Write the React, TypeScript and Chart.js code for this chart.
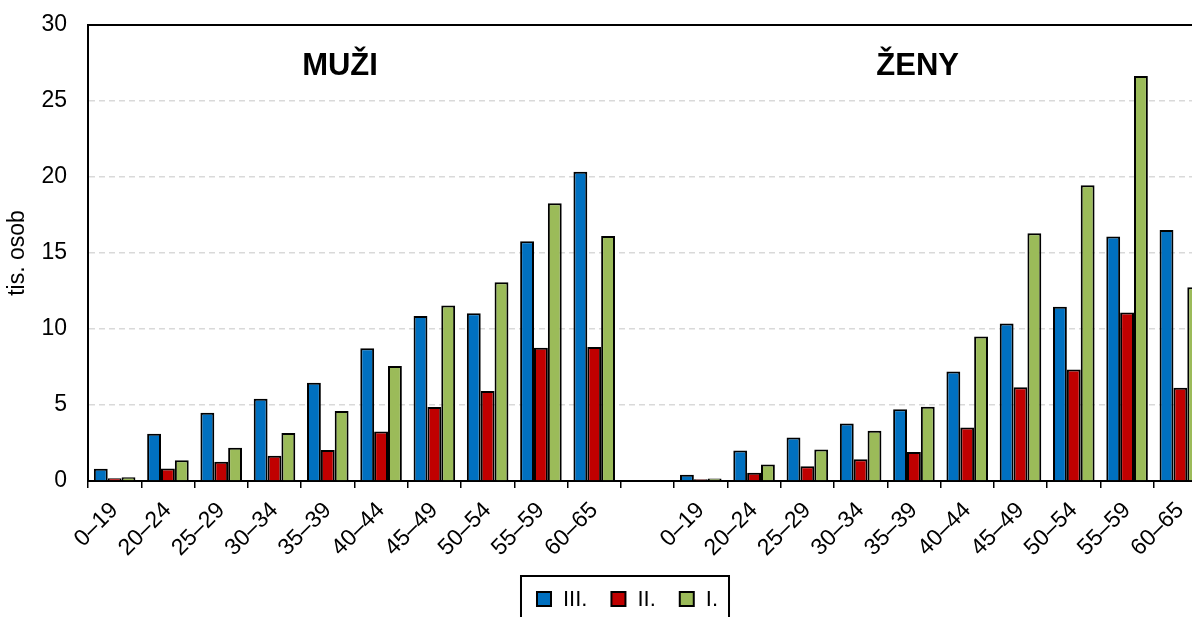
import React, { useEffect, useRef } from "react";
import { Chart, registerables } from "chart.js";

Chart.register(...registerables);

// ---- data ----
const ageGroups = ["0–19", "20–24", "25–29", "30–34", "35–39", "40–44", "45–49", "50–54", "55–59", "60–65"];
const menIII = [0.81, 3.11, 4.49, 5.41, 6.46, 8.73, 10.86, 11.03, 15.77, 20.35];
const menII = [0.18, 0.83, 1.27, 1.66, 2.04, 3.25, 4.87, 5.92, 8.77, 8.82];
const menI = [0.24, 1.36, 2.19, 3.16, 4.6, 7.57, 11.54, 13.07, 18.27, 16.12];
const womenIII = [0.41, 2.0, 2.86, 3.78, 4.72, 7.2, 10.36, 11.46, 16.09, 16.52];
const womenII = [0.12, 0.54, 0.97, 1.43, 1.91, 3.52, 6.17, 7.33, 11.09, 6.13];
const womenI = [0.16, 1.08, 2.07, 3.3, 4.88, 9.51, 16.3, 19.45, 26.64, 12.75];
const seriesLabels = ["III.", "II.", "I."];
const seriesColors = ["#0070C0", "#C00000", "#9BBB59"];
const panelTitles = ["MUŽI", "ŽENY"];
const yTitle = "tis. osob";
const yMin = 0;
const yMax = 30;
const yStep = 5;

const FONT = 'Arial, "Liberation Sans", sans-serif';

export default function App() {
  const ref = useRef<HTMLCanvasElement>(null);

  useEffect(() => {
    if (!ref.current) return;
    const labels = [...ageGroups, "", ...ageGroups];
    const join = (a: number[], b: number[]) => [...a, null, ...b];
    const series = [join(menIII, womenIII), join(menII, womenII), join(menI, womenI)];

    const panelPos = [4.23, 15.07];

    const overlay = {
      id: "overlay",
      afterDraw(chart: any) {
        const { ctx, chartArea, scales } = chart;
        ctx.save();
        // top frame line
        ctx.strokeStyle = "#000";
        ctx.lineWidth = 2;
        ctx.beginPath();
        ctx.moveTo(chartArea.left - 1, chartArea.top);
        ctx.lineTo(chartArea.right, chartArea.top);
        ctx.stroke();

        // panel titles
        ctx.font = `bold 31px ${FONT}`;
        ctx.fillStyle = "#000";
        ctx.textAlign = "center";
        ctx.textBaseline = "alphabetic";
        panelTitles.forEach((t, i) => {
          ctx.fillText(t, scales.x.getPixelForValue(panelPos[i]), chartArea.top + 50);
        });

        // legend
        ctx.font = `22px ${FONT}`;
        const sq = 14, gapText = 12, gapItem = 24, padL = 16, padR = 11, h = 46;
        const items = chart.data.datasets.map((d: any) => ({ text: d.label, color: d.backgroundColor }));
        let w = padL + padR;
        items.forEach((it: any, i: number) => {
          w += sq + gapText + ctx.measureText(it.text).width + (i < items.length - 1 ? gapItem : 0);
        });
        const left = chart.width / 2 - w / 2;
        const top = chartArea.bottom + 95;
        ctx.lineWidth = 2;
        ctx.strokeStyle = "#000";
        ctx.strokeRect(left, top, w, h);
        let x = left + padL;
        const cy = top + 23;
        ctx.textAlign = "left";
        ctx.textBaseline = "middle";
        items.forEach((it: any) => {
          ctx.fillStyle = it.color;
          ctx.fillRect(x, cy - sq / 2, sq, sq);
          ctx.strokeRect(x, cy - sq / 2, sq, sq);
          x += sq + gapText;
          ctx.fillStyle = "#000";
          ctx.fillText(it.text, x, cy + 1);
          x += ctx.measureText(it.text).width + gapItem;
        });
        ctx.restore();
      },
    };

    const chart = new Chart(ref.current, {
      type: "bar",
      data: {
        labels,
        datasets: seriesLabels.map((l, i) => ({
          label: l,
          data: series[i],
          backgroundColor: seriesColors[i],
          borderColor: "#000",
          borderWidth: 2,
          barPercentage: 1,
          categoryPercentage: 0.78,
        })),
      },
      options: {
        responsive: false,
        animation: false,
        layout: { padding: { top: 25, left: 0, right: 43, bottom: 79 } },
        plugins: {
          legend: { display: false },
          tooltip: { enabled: false },
          title: { display: false },
        },
        scales: {
          x: {
            offset: true,
            grid: {
              offset: true,
              drawOnChartArea: false,
              drawTicks: true,
              tickLength: 7,
              color: "#000",
              lineWidth: 1.5,
            },
            border: { display: true, color: "#000", width: 2 },
            ticks: {
              autoSkip: false,
              maxRotation: 45,
              minRotation: 45,
              padding: 9,
              color: "#000",
              font: { size: 23, family: FONT },
            },
            afterFit: (s: any) => {
              s.height = 100;
              s.paddingLeft = 0;
              s.paddingRight = 0;
            },
          },
          y: {
            min: yMin,
            max: yMax,
            ticks: {
              stepSize: yStep,
              padding: 21,
              color: "#000",
              font: { size: 23, family: FONT },
            },
            grid: {
              drawTicks: false,
              lineWidth: 1.5,
              color: (c: any) =>
                c.tick && (c.tick.value === yMin || c.tick.value === yMax) ? "rgba(0,0,0,0)" : "#D9D9D9",
            },
            border: { display: true, color: "#000", width: 2, dash: [6, 4] },
            title: {
              display: true,
              text: yTitle,
              color: "#000",
              font: { size: 23, family: FONT },
              padding: { top: 4, bottom: 0 },
            },
            afterFit: (s: any) => {
              s.width = 88;
              s.paddingTop = 0;
              s.paddingBottom = 0;
            },
          },
        },
      },
      plugins: [overlay],
    });
    return () => chart.destroy();
  }, []);

  return (
    <div
      style={{
        position: "fixed",
        left: 0,
        top: 0,
        width: 1192,
        height: 617,
        overflow: "hidden",
        background: "#fff",
      }}
    >
      <canvas ref={ref} width={1250} height={660} style={{ position: "absolute", left: 0, top: 0 }} />
    </div>
  );
}
